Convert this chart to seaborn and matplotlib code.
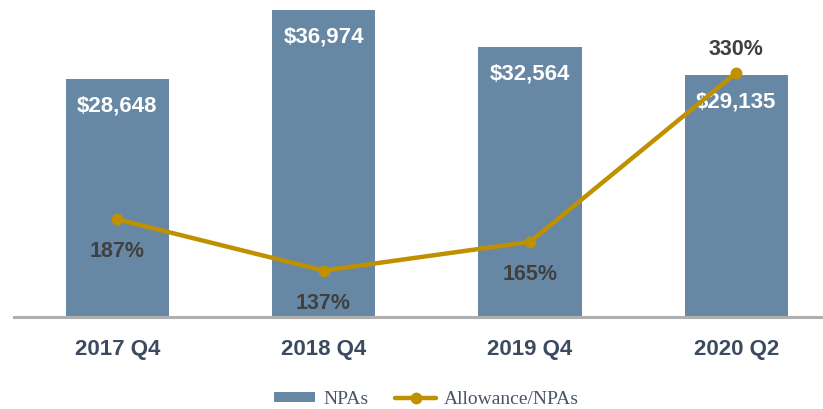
import matplotlib
matplotlib.use("Agg")
import matplotlib.pyplot as plt
import seaborn as sns
import numpy as np

# Datos del gráfico
quarters = ["2017 Q4", "2018 Q4", "2019 Q4", "2020 Q2"]
npas = [28648, 36974, 32564, 29135]
allowance_ratio = [187, 137, 165, 330]
ratio_offsets = [-23.5, -23.5, -23.5, 17]  # etiquetas debajo salvo la última

bar_color = "#6788A5"
line_color = "#BF9000"
label_dark = "#404040"
tick_color = "#3B4A5F"

sns.set_theme(style="white")
plt.rcParams["font.family"] = ["Liberation Sans", "DejaVu Sans"]

fig = plt.figure(figsize=(8.23, 4.09), dpi=100)
ax = fig.add_axes([14 / 823, 1 - 316.7 / 409, 1 - 14 / 823, 316.7 / 409])

sns.barplot(x=quarters, y=npas, color=bar_color, saturation=1, width=0.5,
            linewidth=0, ax=ax, label="NPAs")
ax.set_xlim(-0.5, 3.42)
ax.set_ylim(0, 38170)

ax2 = ax.twinx()
sns.lineplot(x=np.arange(len(quarters)), y=allowance_ratio, ax=ax2,
             color=line_color, linewidth=3.2, marker="o", markersize=8.5,
             markeredgewidth=0, label="Allowance/NPAs", legend=False)
ax2.set_ylim(92, 401)

# Etiquetas de valores
for i, v in enumerate(npas):
    ax.annotate(f"${v:,}", xy=(i, v), xytext=(0, -19.5), textcoords="offset points",
                ha="center", va="center", color="white", fontsize=16, fontweight="bold")
for i, (v, off) in enumerate(zip(allowance_ratio, ratio_offsets)):
    ax2.annotate(f"{v}%", xy=(i, v), xytext=(0, off), textcoords="offset points",
                 ha="center", va="center", color=label_dark, fontsize=15.5, fontweight="bold")

# Ejes
for a in (ax, ax2):
    a.set_yticks([])
    a.set_ylabel("")
    for s in ["top", "right", "left"]:
        a.spines[s].set_visible(False)
ax2.spines["bottom"].set_visible(False)
ax.spines["bottom"].set_color("#AFAFAF")
ax.spines["bottom"].set_linewidth(2.2)
ax.tick_params(axis="x", length=0, pad=16)
for lbl in ax.get_xticklabels():
    lbl.set_fontsize(16)
    lbl.set_fontweight("bold")
    lbl.set_color(tick_color)
ax.set_xlabel("")

# Leyenda
h1, l1 = ax.get_legend_handles_labels()
h2, l2 = ax2.get_legend_handles_labels()
leg = fig.legend(h1 + h2, l1 + l2, loc="center", bbox_to_anchor=(0.5185, 0.024),
                 ncol=2, frameon=False, borderpad=0, handlelength=2.1,
                 handleheight=0.45, handletextpad=0.4, columnspacing=1.4,
                 prop={"family": "Liberation Serif", "size": 14})
for t in leg.get_texts():
    t.set_color("#4A5467")
if ax.get_legend():
    ax.get_legend().remove()

fig.savefig("out.png", dpi=100)
